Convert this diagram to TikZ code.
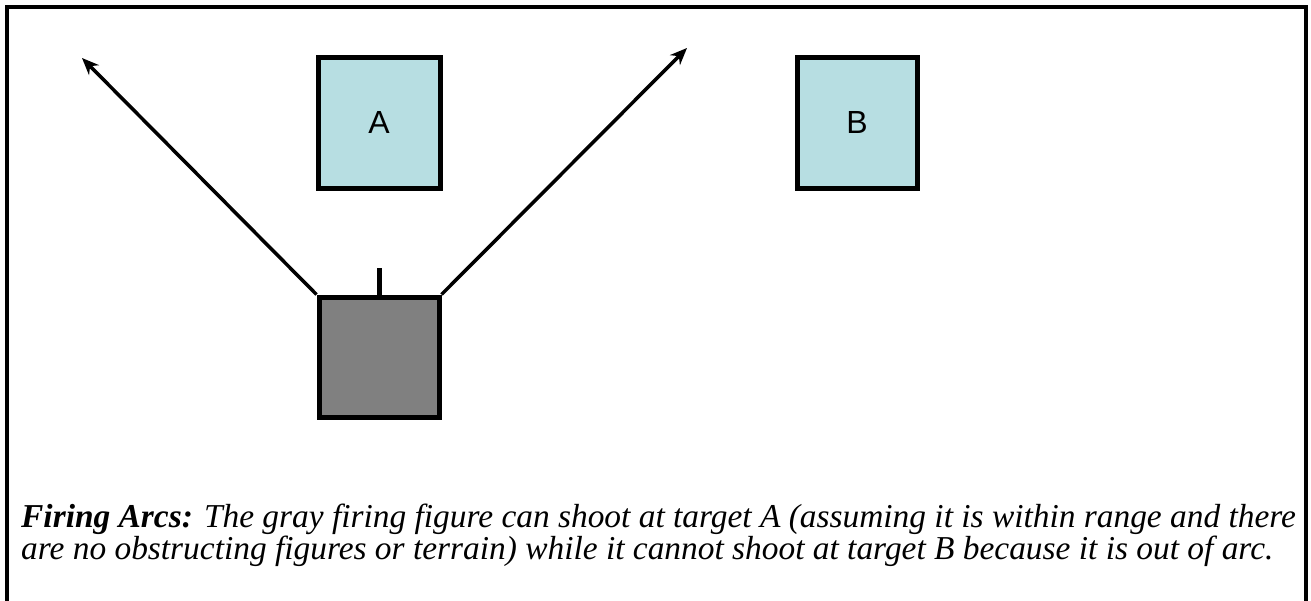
\documentclass[tikz,border=0pt]{standalone}
\usepackage{fontspec}
\setmainfont{Liberation Serif}
\newfontfamily\labelfont{Liberation Sans}
\usetikzlibrary{arrows.meta}
\definecolor{targetfill}{RGB}{183,222,226}
\definecolor{shooterfill}{RGB}{128,128,128}
\tikzset{
  target/.style={draw=black, line width=5pt, fill=targetfill, minimum width=122pt,
    minimum height=131pt, inner sep=0pt, font=\labelfont\fontsize{32}{32}\selectfont},
  shooter/.style={draw=black, line width=5pt, fill=shooterfill, minimum width=120pt,
    minimum height=120pt, inner sep=0pt},
  arcline/.style={line width=3.5pt, -{Stealth[length=17pt,width=14pt]}},
  facing/.style={line width=5pt},
}
\begin{document}
\begin{tikzpicture}[x=1pt,y=-1pt]
  \useasboundingbox (0,0) rectangle (1311,600);
  % outer frame, open at the bottom edge
  \draw[line width=4pt] (7,640) -- (7,7) -- (1306,7) -- (1306,640);

  % targets
  \node[target] (A) at (379,122.5) {A};
  \node[target, minimum width=120pt] (B) at (857,122.5) {B};

  % firing figure with its facing mark
  \node[shooter] (fig) at (379,357) {};
  \coordinate (mark) at (379,268);
  \draw[facing] (fig.north) -- (mark);

  % limits of the firing arc
  \coordinate (leftend) at (82,58);
  \coordinate (rightend) at (687,48);
  \draw[arcline] (fig.north west) -- (leftend);
  \draw[arcline] (fig.north east) -- (rightend);

  % caption (base anchor sits on the last line)
  \node[anchor=base west, inner sep=0pt, align=left,
        font=\fontsize{33.4}{32}\selectfont] (caption) at (21,559)
    {\textbf{\textit{Firing Arcs:}} \textit{The gray firing figure can shoot at target A (assuming it is within range and there}\\
     \textit{are no obstructing figures or terrain) while it cannot shoot at target B because it is out of arc.}};
\end{tikzpicture}
\end{document}
